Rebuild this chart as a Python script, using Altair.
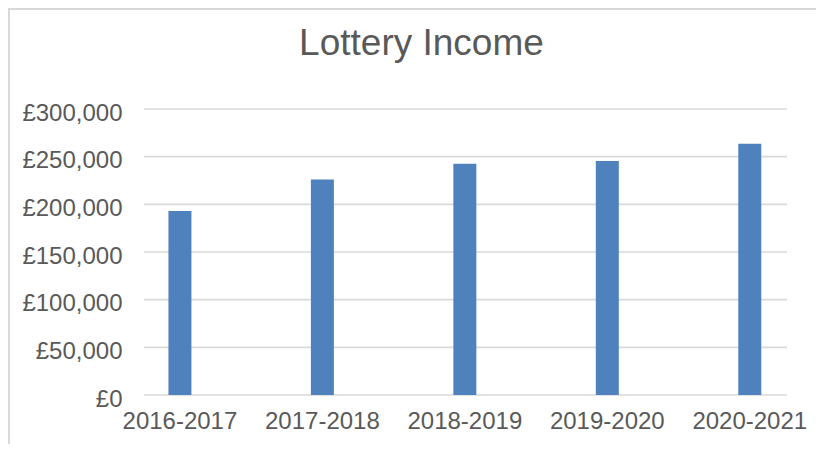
import altair as alt
import pandas as pd

years = ["2016-2017", "2017-2018", "2018-2019", "2019-2020", "2020-2021"]
income = [193000, 226000, 242500, 245500, 263500]
y_ticks = [0, 50000, 100000, 150000, 200000, 250000, 300000]

df = pd.DataFrame({"Year": years, "Income": income})
grid_df = pd.DataFrame({"Income": y_ticks})

FONT = "Liberation Sans"
TXT = "#595959"
GRID = "#D9D9D9"

yscale = alt.Scale(domain=[0, 300000], nice=False)

grid = alt.Chart(grid_df).mark_rule(stroke=GRID, strokeWidth=1.6).encode(
    y=alt.Y("Income:Q", scale=yscale),
    x=alt.value(35.3), x2=alt.value(678.3),
)

bars = alt.Chart(df).mark_bar(size=23, color="#4F81BD").encode(
    x=alt.X("Year:N", sort=years,
            scale=alt.Scale(range=[0, 712.3], paddingInner=0, paddingOuter=0),
            axis=alt.Axis(title=None, domain=False, ticks=False, labelAngle=0,
                          labelFontSize=24, labelColor=TXT, labelFont=FONT,
                          labelPadding=14, grid=False)),
    y=alt.Y("Income:Q", scale=yscale,
            axis=alt.Axis(title=None, values=y_ticks, format="$,.0f",
                          domain=False, ticks=False, labelFontSize=24,
                          labelColor=TXT, labelFont=FONT, labelPadding=-13.3,
                          labelOffset=4, grid=False)),
)

one = pd.DataFrame({"a": [0]})
top_border = alt.Chart(one).mark_rule(stroke=GRID, strokeWidth=2).encode(
    x=alt.value(-101), x2=alt.value(707.3), y=alt.value(-100)
)
left_border = alt.Chart(one).mark_rule(stroke=GRID, strokeWidth=2).encode(
    x=alt.value(-99.7), y=alt.value(-101), y2=alt.value(335)
)

chart = alt.layer(top_border, left_border, grid, bars).properties(
    width=707.3, height=286,
    autosize=alt.AutoSizeParams(type="none"),
    padding={"left": 100.7, "top": 101, "right": 0, "bottom": 49},
    title=alt.TitleParams("Lottery Income", fontSize=37, font=FONT, color=TXT,
                          fontWeight="normal", anchor="middle", frame="group",
                          dx=-40.9, baseline="alphabetic", offset=0, dy=85),
).configure(
    locale={"number": {"decimal": ".", "thousands": ",", "grouping": [3],
                       "currency": ["£", ""]}}
).configure_view(stroke=None)

chart.save("out.html", embed_options={"renderer": "svg", "actions": False})
